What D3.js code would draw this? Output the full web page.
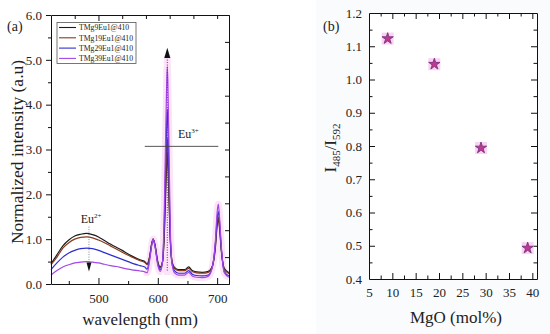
<!DOCTYPE html>
<html>
<head>
<meta charset="utf-8">
<script src="https://cdn.jsdelivr.net/npm/d3@7"></script>
<style>
  body { margin: 0; background: #fff; }
  text { fill: #222; }
  .axis path, .axis line { stroke: #111; }
</style>
</head>
<body>
<svg id="chart" width="550" height="334"></svg>
<script>
// panel (a) spectra
const wavelength = [420, 430, 440, 450, 460, 470, 480, 490, 500, 510, 520, 530, 540, 550, 560, 570, 578, 582, 586, 590, 592, 595, 600, 604, 608, 611, 613, 615, 616, 617, 619, 621, 624, 628, 635, 645, 652, 658, 665, 675, 685, 692, 697, 700, 702, 704, 707, 712, 720]
const tmg9 = [0.45, 0.65, 0.85, 0.98, 1.07, 1.11, 1.13, 1.1, 1.05, 0.97, 0.89, 0.82, 0.75, 0.67, 0.6, 0.54, 0.5, 0.45, 0.6, 0.92, 1.0, 0.9, 0.5, 0.38, 0.5, 1.1, 1.9, 2.7, 2.95, 2.7, 1.8, 1.0, 0.5, 0.37, 0.32, 0.32, 0.38, 0.3, 0.27, 0.26, 0.28, 0.4, 0.8, 1.3, 1.45, 1.25, 0.75, 0.35, 0.25]
const tmg19 = [0.43, 0.6, 0.8, 0.92, 1.0, 1.04, 1.05, 1.03, 0.98, 0.92, 0.85, 0.78, 0.71, 0.64, 0.58, 0.52, 0.48, 0.43, 0.58, 0.9, 1.0, 0.88, 0.48, 0.36, 0.5, 1.2, 2.1, 3.0, 3.25, 3.0, 2.0, 1.05, 0.5, 0.35, 0.3, 0.3, 0.35, 0.28, 0.25, 0.24, 0.26, 0.4, 0.85, 1.35, 1.5, 1.3, 0.78, 0.33, 0.23]
const tmg29 = [0.32, 0.47, 0.6, 0.69, 0.75, 0.79, 0.8, 0.79, 0.75, 0.7, 0.65, 0.6, 0.55, 0.5, 0.45, 0.41, 0.38, 0.33, 0.55, 0.9, 1.0, 0.87, 0.45, 0.32, 0.5, 1.4, 2.5, 3.6, 3.9, 3.6, 2.3, 1.1, 0.45, 0.3, 0.24, 0.24, 0.3, 0.22, 0.19, 0.18, 0.2, 0.38, 0.9, 1.45, 1.62, 1.4, 0.8, 0.28, 0.18]
const tmg39 = [0.2, 0.3, 0.38, 0.43, 0.47, 0.49, 0.5, 0.49, 0.47, 0.44, 0.41, 0.39, 0.36, 0.33, 0.31, 0.29, 0.27, 0.25, 0.5, 0.88, 1.0, 0.86, 0.42, 0.28, 0.5, 1.7, 3.1, 4.5, 4.85, 4.5, 2.9, 1.3, 0.45, 0.25, 0.2, 0.2, 0.26, 0.18, 0.15, 0.14, 0.17, 0.38, 0.95, 1.6, 1.78, 1.5, 0.85, 0.25, 0.15]
const seriesNames = ['TMg9Eu1@410', 'TMg19Eu1@410', 'TMg29Eu1@410', 'TMg39Eu1@410']
const seriesColors = ['#1c1c1c', '#8a3b1e', '#2f2fd0', '#a347e6']
const yTicksA = [0, 1, 2, 3, 4, 5, 6]
const xTicksA = [500, 600, 700]

// panel (b) ratio
const mgo = [9, 19, 29, 39]
const ratio = [1.123, 1.046, 0.794, 0.493]
const xTicksB = [5, 10, 15, 20, 25, 30, 35, 40]
const yTicksB = [0.4, 0.5, 0.6, 0.7, 0.8, 0.9, 1.0, 1.1, 1.2]

const svg = d3.select('#chart')

// faint backdrop behind panel (b)
svg.append('rect').attr('x', 316).attr('y', 0).attr('width', 234).attr('height', 334).attr('fill', '#fafbfd')

// ---------- panel (a) ----------
const xa = d3.scaleLinear().domain([420, 720]).range([51, 229])
const ya = d3.scaleLinear().domain([0, 6]).range([284, 15])
const ga = svg.append('g')

const series = [tmg9, tmg19, tmg29, tmg39].map((vals, i) => ({
  name: seriesNames[i],
  color: seriesColors[i],
  points: wavelength.map((w, j) => [w, vals[j]])
}))

const line = d3.line().x(d => xa(d[0])).y(d => ya(d[1])).curve(d3.curveMonotoneX)

// pale pink halo around the peaks
ga.append('path')
  .attr('d', line(series[3].points.filter(d => d[0] >= 576)))
  .attr('fill', 'none').attr('stroke', '#fde3f8').attr('stroke-width', 7).attr('stroke-linejoin', 'round')
ga.append('line')
  .attr('x1', xa(616)).attr('x2', xa(616)).attr('y1', ya(0.2)).attr('y2', ya(5.1))
  .attr('stroke', '#fde3f8').attr('stroke-width', 7)

series.forEach(s => {
  ga.append('path')
    .attr('d', line(s.points))
    .attr('fill', 'none')
    .attr('stroke', s.color)
    .attr('stroke-width', 1.2)
})

// Eu3+ marker
ga.append('line')
  .attr('x1', xa(616)).attr('x2', xa(616)).attr('y1', ya(0.3)).attr('y2', ya(5.1))
  .attr('stroke', '#6a2a8a').attr('stroke-width', 1).attr('stroke-dasharray', '1,1.5')
ga.append('path')
  .attr('d', `M${xa(616)},${ya(5.27)} L${xa(616) - 3},${ya(5.04)} L${xa(616) + 3},${ya(5.04)} Z`)
  .attr('fill', '#111')
ga.append('line')
  .attr('x1', xa(578)).attr('x2', xa(702)).attr('y1', ya(3.07)).attr('y2', ya(3.07))
  .attr('stroke', '#444').attr('stroke-width', 0.9)
const eu3 = ga.append('text').attr('x', xa(634)).attr('y', ya(3.25)).attr('font-size', 12)
eu3.append('tspan').text('Eu')
eu3.append('tspan').attr('font-size', 7).attr('dy', -5).text('3+')

// Eu2+ marker
ga.append('line')
  .attr('x1', xa(484)).attr('x2', xa(484)).attr('y1', ya(1.28)).attr('y2', ya(0.45))
  .attr('stroke', '#666').attr('stroke-width', 0.8).attr('stroke-dasharray', '1,1.5')
ga.append('path')
  .attr('d', `M${xa(484)},${ya(0.28)} L${xa(484) - 2.5},${ya(0.48)} L${xa(484) + 2.5},${ya(0.48)} Z`)
  .attr('fill', '#111')
const eu2 = ga.append('text').attr('x', xa(470)).attr('y', ya(1.36)).attr('font-size', 12)
eu2.append('tspan').text('Eu')
eu2.append('tspan').attr('font-size', 7).attr('dy', -5).text('2+')

// axes (a)
ga.append('g').attr('class', 'axis').attr('transform', 'translate(0,284)')
  .call(d3.axisBottom(xa).tickValues(d3.range(450, 720, 50)).tickSize(0).tickFormat(''))
  .call(g => g.selectAll('.tick').append('line')
    .attr('y2', d => xTicksA.includes(d) ? -6 : -3).attr('stroke', '#111'))
ga.append('g').attr('class', 'axis').attr('transform', 'translate(0,284)')
  .call(d3.axisBottom(xa).tickValues(xTicksA).tickSize(0).tickPadding(10))
  .call(g => g.select('.domain').remove())
  .call(g => g.selectAll('text').attr('font-size', 13))
ga.append('g').attr('class', 'axis').attr('transform', 'translate(0,15)')
  .call(d3.axisTop(xa).tickValues(d3.range(460, 720, 40)).tickSize(0).tickFormat(''))
  .call(g => g.selectAll('.tick').append('line')
    .attr('y2', d => d === 500 ? 6 : 4).attr('stroke', '#111'))
ga.append('g').attr('class', 'axis').attr('transform', 'translate(51,0)')
  .call(d3.axisLeft(ya).tickValues(d3.range(0, 6.01, 0.5)).tickSize(0).tickFormat(''))
  .call(g => g.selectAll('.tick').append('line')
    .attr('x2', d => yTicksA.includes(d) ? -5 : -3).attr('stroke', '#111'))
ga.append('g').attr('class', 'axis').attr('transform', 'translate(51,0)')
  .call(d3.axisLeft(ya).tickValues(yTicksA).tickSize(0).tickPadding(9))
  .call(g => g.select('.domain').remove())
  .call(g => g.selectAll('text').attr('font-size', 13))
ga.append('g').attr('class', 'axis').attr('transform', 'translate(229,0)')
  .call(d3.axisRight(ya).tickValues(d3.range(0.6, 5.9, 0.6)).tickSize(-4).tickFormat(''))

ga.append('text').attr('x', 140).attr('y', 325).attr('text-anchor', 'middle').attr('font-size', 17)
  .text('wavelength (nm)')
ga.append('text').attr('transform', 'translate(23,152) rotate(-90)').attr('text-anchor', 'middle').attr('font-size', 17.5)
  .text('Normalized intensity (a.u)')
ga.append('text').attr('x', 7).attr('y', 31).attr('font-size', 14).text('(a)')

// legend
const lg = ga.append('g')
lg.append('rect').attr('x', 57).attr('y', 22.5).attr('width', 79).attr('height', 41)
  .attr('fill', '#fff').attr('stroke', '#555').attr('stroke-width', 0.8)
series.forEach((s, i) => {
  const yy = 27.5 + i * 10.3
  lg.append('line').attr('x1', 59).attr('x2', 76).attr('y1', yy).attr('y2', yy)
    .attr('stroke', s.color).attr('stroke-width', 1.1)
  lg.append('text').attr('x', 79).attr('y', yy + 2.7).attr('font-size', 7.7).attr('fill', '#333').text(s.name)
})

// ---------- panel (b) ----------
const xb = d3.scaleLinear().domain([5, 41]).range([369, 537])
const yb = d3.scaleLinear().domain([0.4, 1.2]).range([279, 13])
const gb = svg.append('g')

gb.append('rect').attr('x', 369).attr('y', 13).attr('width', 168).attr('height', 266).attr('fill', '#fff')

gb.append('g').attr('class', 'axis').attr('transform', 'translate(0,279)')
  .call(d3.axisBottom(xb).tickValues(d3.range(7.5, 41, 2.5)).tickSize(0).tickFormat(''))
  .call(g => g.selectAll('.tick').append('line')
    .attr('y2', d => d % 5 === 0 ? -6 : -3.5).attr('stroke', '#111'))
gb.append('g').attr('class', 'axis').attr('transform', 'translate(0,279)')
  .call(d3.axisBottom(xb).tickValues(xTicksB).tickSize(0).tickPadding(9))
  .call(g => g.select('.domain').remove())
  .call(g => g.selectAll('text').attr('font-size', 13))
gb.append('g').attr('class', 'axis').attr('transform', 'translate(0,13)')
  .call(d3.axisTop(xb).tickValues(d3.range(7.5, 41, 2.5)).tickSize(0).tickFormat(''))
  .call(g => g.selectAll('.tick').append('line')
    .attr('y2', d => d % 5 === 0 ? 6 : 3.5).attr('stroke', '#111'))
gb.append('g').attr('class', 'axis').attr('transform', 'translate(369,0)')
  .call(d3.axisLeft(yb).tickValues(d3.range(0.45, 1.2, 0.05)).tickSize(0).tickFormat(''))
  .call(g => g.selectAll('.tick').append('line')
    .attr('x2', (d, i) => i % 2 === 1 ? 6 : 3.5).attr('stroke', '#111'))
gb.append('g').attr('class', 'axis').attr('transform', 'translate(369,0)')
  .call(d3.axisLeft(yb).tickValues(yTicksB).tickSize(0).tickPadding(7).tickFormat(d3.format('.1f')))
  .call(g => g.select('.domain').remove())
  .call(g => g.selectAll('text').attr('font-size', 13))
gb.append('g').attr('class', 'axis').attr('transform', 'translate(537,0)')
  .call(d3.axisRight(yb).tickValues(d3.range(0.45, 1.2, 0.05)).tickSize(0).tickFormat(''))
  .call(g => g.selectAll('.tick').append('line')
    .attr('x2', (d, i) => i % 2 === 1 ? -6 : -3.5).attr('stroke', '#111'))

const pts = mgo.map((m, i) => ({ x: m, y: ratio[i] }))
gb.selectAll('rect.hl').data(pts).join('rect').attr('class', 'hl')
  .attr('x', d => xb(d.x) - 6).attr('y', d => yb(d.y) - 6).attr('width', 12).attr('height', 12)
  .attr('fill', '#f9d3f1')
gb.selectAll('path.star').data(pts).join('path').attr('class', 'star')
  .attr('transform', d => `translate(${xb(d.x)},${yb(d.y)})`)
  .attr('d', d3.symbol(d3.symbolStar, 40))
  .attr('fill', '#c2378c').attr('stroke', '#6b2d7e').attr('stroke-width', 0.8)

gb.append('text').attr('x', 456).attr('y', 323).attr('text-anchor', 'middle').attr('font-size', 17)
  .text('MgO (mol%)')
const yl = gb.append('text').attr('transform', 'translate(336,148) rotate(-90)').attr('text-anchor', 'middle').attr('font-size', 17)
yl.append('tspan').text('I')
yl.append('tspan').attr('font-size', 11).attr('dy', 4).text('485')
yl.append('tspan').attr('dy', -4).text('/I')
yl.append('tspan').attr('font-size', 11).attr('dy', 4).text('592')
gb.append('text').attr('x', 323).attr('y', 31).attr('font-size', 14).text('(b)')

// every label in a Times-like face
svg.selectAll('text').style('font-family', '"Liberation Serif", serif')
</script>
</body>
</html>
